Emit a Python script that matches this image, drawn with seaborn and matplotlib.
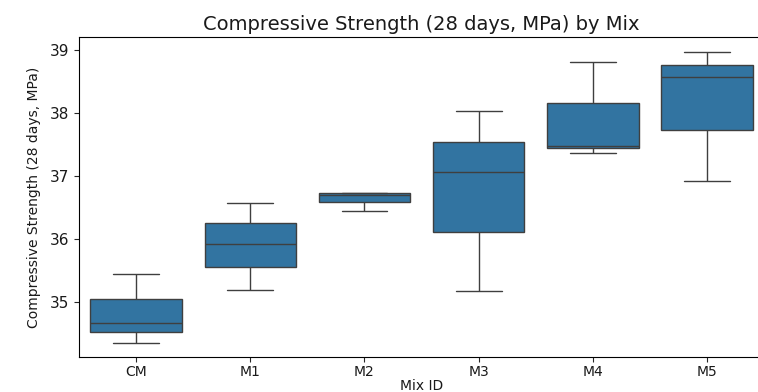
import pandas as pd
import matplotlib
matplotlib.use("Agg")
import matplotlib.pyplot as plt
import seaborn as sns

# Five readings per mix (min, q1, median, q3, max)
mix_ids = ["CM", "M1", "M2", "M3", "M4", "M5"]
cm_vals = [34.35, 34.52, 34.67, 35.04, 35.44]
m1_vals = [35.18, 35.55, 35.92, 36.25, 36.57]
m2_vals = [36.44, 36.58, 36.70, 36.72, 36.72]
m3_vals = [35.17, 36.11, 37.06, 37.54, 38.03]
m4_vals = [37.36, 37.44, 37.48, 38.15, 38.81]
m5_vals = [36.91, 37.73, 38.56, 38.76, 38.97]

all_vals = [cm_vals, m1_vals, m2_vals, m3_vals, m4_vals, m5_vals]
df = pd.DataFrame({
    "Mix ID": [m for m, v in zip(mix_ids, all_vals) for _ in v],
    "strength": [x for v in all_vals for x in v],
})

sns.set_style("white")
fig = plt.figure(figsize=(7.58, 3.92), dpi=100)
ax = fig.add_axes([0.1042, 0.0885, 0.904, 0.817])

sns.boxplot(data=df, x="Mix ID", y="strength", order=mix_ids,
            color="#1f77b4", saturation=0.75, ax=ax)

ax.set_title("Compressive Strength (28 days, MPa) by Mix", fontsize=14,
             color="#1a1a1a", pad=5)
ax.set_ylabel("Compressive Strength (28 days, MPa)", fontsize=10,
              color="#1a1a1a", labelpad=6)
ax.set_xlabel("Mix ID", fontsize=10, color="#1a1a1a", labelpad=0)
ax.tick_params(axis="both", labelsize=11, left=True, bottom=True,
               length=3.5, width=0.8, labelcolor="#1a1a1a")
ax.tick_params(axis="x", labelsize=10, pad=2)
for s in ax.spines.values():
    s.set_color("black")
    s.set_linewidth(0.8)

fig.savefig("out.png", dpi=100)
